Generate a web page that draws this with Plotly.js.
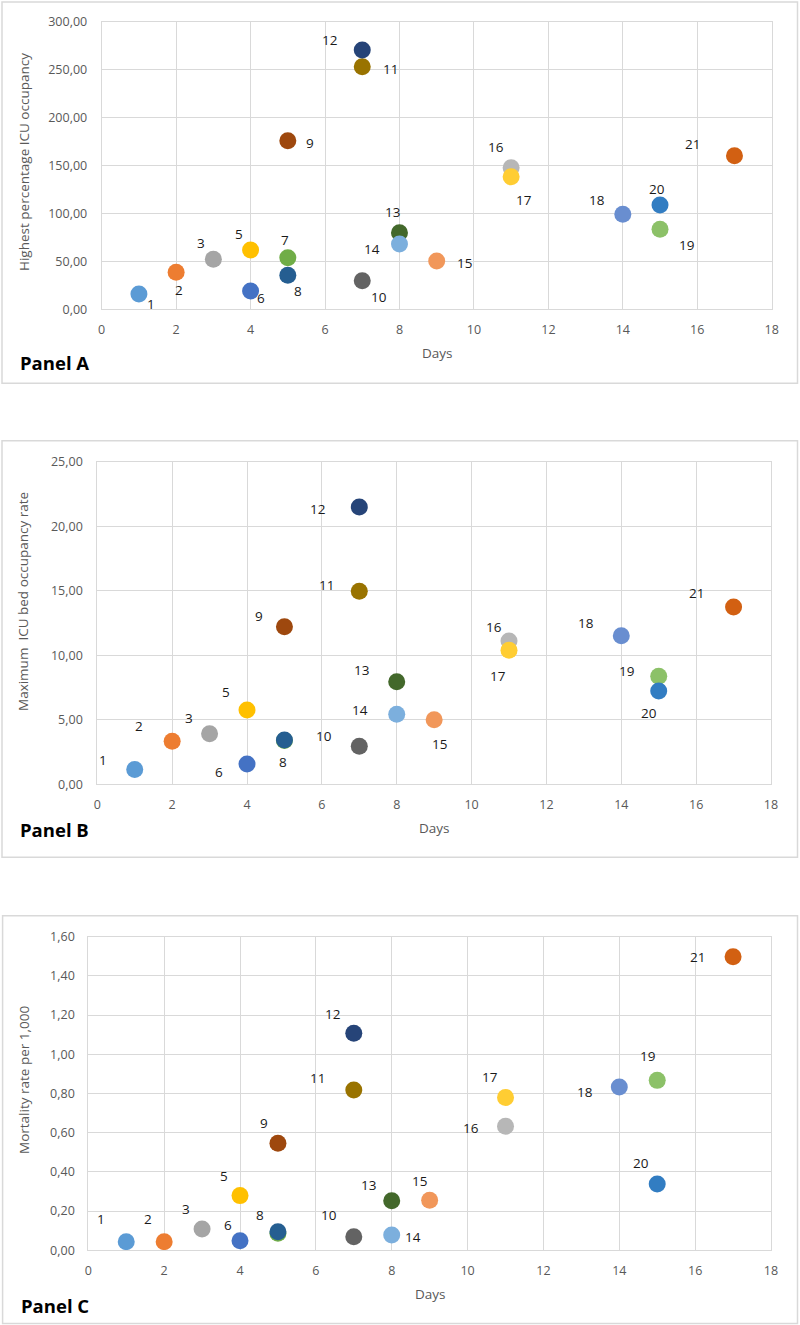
<!DOCTYPE html>
<html>
<head>
<meta charset="utf-8">
<script src="https://cdn.plot.ly/plotly-3.0.1.min.js"></script>
<style>html,body{margin:0;padding:0;background:#fff;}#chart{width:800px;height:1325px;}</style>
</head>
<body>
<div id="chart"></div>
<script>
// ---- data ----
const pointLabels = ["1","2","3","5","6","7","8","9","10","11","12","13","14","15","16","17","18","19","20","21"];
const days        = [1, 2, 3, 4, 4, 5, 5, 5, 7, 7, 7, 8, 8, 9, 11, 11, 14, 15, 15, 17];
const icuOccupancyPct = [16.0, 38.6, 52.2, 61.9, 19.1, 53.8, 35.5, 175.9, 29.9, 253.1, 270.5, 79.9, 68.1, 50.4, 147.7, 138.3, 99.1, 83.4, 108.8, 160.2];
const icuBedRate      = [1.15, 3.33, 3.92, 5.76, 1.57, 3.39, 3.43, 12.21, 2.94, 14.96, 21.49, 7.95, 5.42, 5.01, 11.10, 10.38, 11.52, 8.37, 7.23, 13.74];
const mortalityRate   = [0.044, 0.044, 0.109, 0.279, 0.049, 0.087, 0.095, 0.546, 0.069, 0.818, 1.107, 0.253, 0.078, 0.255, 0.633, 0.780, 0.833, 0.867, 0.338, 1.498];
const xTickVals = [0, 2, 4, 6, 8, 10, 12, 14, 16, 18];

// ---- styles ----
const pointColors = ["#5B9BD5","#ED7D31","#A5A5A5","#FFC000","#4472C4","#70AD47","#255E91","#9E480E","#636363","#997300","#264478","#43682B","#7CAFDD","#F1975A","#B7B7B7","#FFCD33","#698ED0","#8CC168","#327DC2","#D26012"];
// label offsets in px (dx right, dy down); null = label hidden
const offA = [[12,10],[3,18],[-12,-16],[-12,-16],[10,7],[-3,-18],[10,16],[22,2],[17,16],[28,2],[-33,-10],[-7,-21],[-27,5],[28,2],[-15,-21],[13,23],[-26,-14],[26,16],[-3,-16],[-42,-12]];
const offB = [[-32,-9],[-33,-15],[-21,-16],[-21,-18],[-28,8],null,[-1,22],[-25,-11],[-35,-10],[-33,-6],[-42,2],[-35,-12],[-37,-4],[5,24],[-15,-14],[-11,26],[-35,-13],[-32,-5],[-10,22],[-37,-14]];
const offC = [[-25,-23],[-16,-23],[-16,-20],[-16,-20],[-12,-16],null,[-18,-17],[-14,-20],[-25,-22],[-36,-12],[-21,-19],[-23,-16],[21,2],[-10,-19],[-35,2],[-16,-20],[-34,5],[-10,-24],[-16,-21],[-36,0]];

const W = 800, H = 1325;
const px = v => v / W;
const py = v => 1 - v / H;
const FONT = "Open Sans, DejaVu Sans, sans-serif";
const GRID = "#d9d9d9";
const TICKC = "#595959";

function trace(yvals, xa, ya) {
  return {
    type: "scatter", mode: "markers",
    x: days, y: yvals, xaxis: xa, yaxis: ya,
    marker: {size: 17, color: pointColors, line: {width: 0}},
    hoverinfo: "skip", showlegend: false, cliponaxis: false
  };
}

function xAxis(dom, anchor) {
  return {
    domain: dom, anchor: anchor, range: [0, 18], tickvals: xTickVals, tickformat: "d",
    showgrid: true, gridcolor: GRID, gridwidth: 1, zeroline: false,
    showline: true, linecolor: GRID, linewidth: 1, mirror: true,
    ticks: "outside", ticklen: 9, tickcolor: "rgba(0,0,0,0)",
    tickfont: {family: FONT, size: 12.5, color: TICKC}, fixedrange: true
  };
}
function yAxis(dom, anchor, rng, dt, tl) {
  return {
    domain: dom, anchor: anchor, range: rng, dtick: dt, tick0: 0, tickformat: ".2f",
    showgrid: true, gridcolor: GRID, gridwidth: 1, zeroline: false,
    showline: true, linecolor: GRID, linewidth: 1, mirror: true,
    ticks: "outside", ticklen: tl, tickcolor: "rgba(0,0,0,0)",
    tickfont: {family: FONT, size: 12.5, color: TICKC}, fixedrange: true
  };
}

const data = [
  trace(icuOccupancyPct, "x", "y"),
  trace(icuBedRate, "x2", "y2"),
  trace(mortalityRate, "x3", "y3")
];

const annotations = [];
function addLabels(yvals, offs, xr, yr) {
  for (let i = 0; i < pointLabels.length; i++) {
    const o = offs[i];
    if (!o) continue;
    annotations.push({
      x: days[i], y: yvals[i], xref: xr, yref: yr, text: pointLabels[i],
      showarrow: false, xshift: o[0], yshift: -o[1],
      font: {family: FONT, size: 13.5, color: "#1a1a1a"}
    });
  }
}
addLabels(icuOccupancyPct, offA, "x", "y");
addLabels(icuBedRate, offB, "x2", "y2");
addLabels(mortalityRate, offC, "x3", "y3");

function textAnn(text, x, y, opts) {
  annotations.push(Object.assign({
    text: text, xref: "paper", yref: "paper", x: px(x), y: py(y),
    showarrow: false, xanchor: "center", yanchor: "middle",
    font: {family: FONT, size: 13.5, color: TICKC}
  }, opts || {}));
}
// axis titles
textAnn("Days", 437, 353);
textAnn("Highest percentage ICU occupancy", 24, 162, {textangle: -90});
textAnn("Days", 434, 828);
textAnn("Maximum  ICU bed occupancy rate", 23, 602, {textangle: -90});
textAnn("Days", 430, 1294);
textAnn("Mortality rate per 1,000", 24, 1080, {textangle: -90});
// panel names
const bold = {family: FONT, size: 18.5, color: "#000000", weight: 700};
textAnn("<b>Panel A</b>", 18, 362, {xanchor: "left", font: bold});
textAnn("<b>Panel B</b>", 18, 829, {xanchor: "left", font: bold});
textAnn("<b>Panel C</b>", 19, 1305, {xanchor: "left", font: bold});

function box(x0, y0, x1, y1) {
  return {type: "rect", xref: "paper", yref: "paper",
    x0: px(x0), x1: px(x1), y0: py(y0), y1: py(y1),
    line: {color: "#d9d9d9", width: 1.5}, fillcolor: "rgba(0,0,0,0)", layer: "below"};
}

const layout = {
  width: W, height: H,
  margin: {l: 0, r: 0, t: 0, b: 0, pad: 0},
  paper_bgcolor: "#ffffff", plot_bgcolor: "#ffffff",
  separators: ",.",
  showlegend: false,
  xaxis: xAxis([px(101.7), px(771.7)], "y"),
  yaxis: yAxis([py(309.3), py(21.7)], "x", [0, 300], 50, 11),
  xaxis2: xAxis([px(97.3), px(771)], "y2"),
  yaxis2: yAxis([py(784.3), py(461.7)], "x2", [0, 25], 5, 11),
  xaxis3: xAxis([px(88.3), px(771)], "y3"),
  yaxis3: yAxis([py(1250.3), py(936.7)], "x3", [0, 1.6], 0.2, 10),
  shapes: [box(2, 2, 797.5, 383.3), box(2, 440.7, 797.5, 857.3), box(2.6, 915.7, 797.5, 1323.5)],
  annotations: annotations
};

Plotly.newPlot("chart", data, layout, {displayModeBar: false, staticPlot: true});
</script>
</body>
</html>
